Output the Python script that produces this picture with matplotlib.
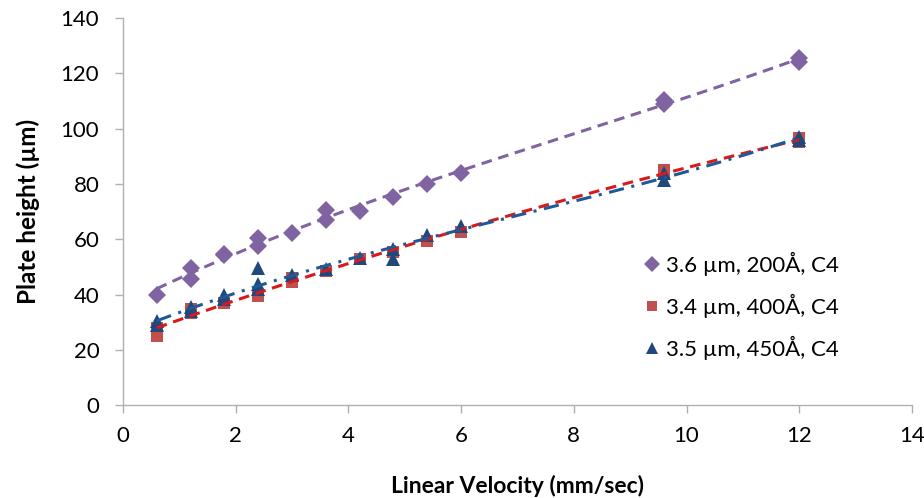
import numpy as np
import matplotlib
matplotlib.use("Agg")
import matplotlib.pyplot as plt
from matplotlib.lines import Line2D

plt.rcParams['font.family'] = ['Lato', 'DejaVu Sans']

# Data (duplicate injections at several velocities)
v_a = [0.6, 1.2, 1.2, 1.8, 1.8, 2.4, 2.4, 3.0, 3.6, 3.6, 4.2, 4.8, 5.4, 6.0, 9.6, 9.6, 12.0, 12.0]
h_a = [40.0, 49.7, 45.7, 54.7, 54.2, 60.5, 57.5, 62.3, 70.6, 66.9, 70.2, 75.4, 80.0, 84.0, 110.3, 109.0, 125.6, 124.2]

v_b = [0.6, 0.6, 1.2, 1.2, 1.8, 2.4, 3.0, 3.0, 3.6, 4.2, 4.8, 5.4, 6.0, 9.6, 9.6, 12.0, 12.0]
h_b = [25.0, 28.0, 33.5, 35.0, 37.0, 39.5, 44.5, 46.0, 48.5, 53.0, 55.5, 59.5, 62.5, 85.0, 84.0, 96.5, 95.0]

v_c = [0.6, 0.6, 1.2, 1.2, 1.8, 1.8, 2.4, 2.4, 2.4, 3.0, 3.6, 4.2, 4.8, 4.8, 5.4, 6.0, 9.6, 9.6, 12.0, 12.0]
h_c = [30.5, 29.0, 35.5, 34.0, 40.0, 38.5, 49.5, 44.0, 42.0, 47.0, 49.2, 53.2, 56.5, 53.0, 61.5, 64.8, 84.0, 81.5, 97.0, 96.0]

labels = ["3.6 µm, 200Å, C4", "3.4 µm, 400Å, C4", "3.5 µm, 450Å, C4"]

x_ticks = [0, 2, 4, 6, 8, 10, 12, 14]
y_ticks = [0, 20, 40, 60, 80, 100, 120, 140]

fig = plt.figure(figsize=(9.24, 4.98), dpi=100)
ax = fig.add_axes([0.133, 0.186, 0.854, 0.778])

series = [
    (v_a, h_a, 'D', '#8064A2', 9.5, '#8064A2', (0, (3.5, 2.2))),
    (v_b, h_b, 's', '#C0504D', 8.5, '#D91A1A', (0, (3.5, 2.2))),
    (v_c, h_c, '^', '#1F497D', 10, '#1F5A96', (0, (5, 2.5, 1, 2.5))),
]

for vx, hy, mk, mc, ms, lc, ls in series:
    vx = np.asarray(vx); hy = np.asarray(hy)
    ax.plot(vx, hy, linestyle='none', marker=mk, markersize=ms,
            color=mc, markeredgewidth=0, zorder=3)

for vx, hy, mk, mc, ms, lc, ls in series:
    vx = np.asarray(vx); hy = np.asarray(hy)
    coef = np.polyfit(vx, hy, 3)
    xs = np.linspace(vx.min(), vx.max(), 200)
    ax.plot(xs, np.polyval(coef, xs), color=lc, linewidth=2.2,
            linestyle=ls, zorder=4)

ax.set_xlim(0, 14)
ax.set_ylim(0, 140)
ax.set_xticks(x_ticks)
ax.set_yticks(y_ticks)
ax.tick_params(axis='both', labelsize=16, colors='#B0B0B0', labelcolor='black',
               length=6, width=1, direction='out')
ax.tick_params(axis='y', pad=11)
ax.tick_params(axis='x', pad=9)
for side in ['top', 'right']:
    ax.spines[side].set_visible(False)
for side in ['left', 'bottom']:
    ax.spines[side].set_color('#B0B0B0')
    ax.spines[side].set_linewidth(1)

ax.set_xlabel("Linear Velocity (mm/sec)", fontsize=16.5, fontweight='bold', labelpad=21)
ax.set_ylabel("Plate height (µm)", fontsize=17.5, fontweight='bold', labelpad=15)

handles = [Line2D([], [], linestyle='none', marker=s[2], markersize=s[4] - 1,
                  color=s[3], markeredgewidth=0) for s in series]
ax.legend(handles, labels, loc='center left', bbox_to_anchor=(0.635, 0.257),
          frameon=False, fontsize=16, labelspacing=0.8, handletextpad=0.3,
          handlelength=0.7)

fig.savefig("out.png", dpi=100)
